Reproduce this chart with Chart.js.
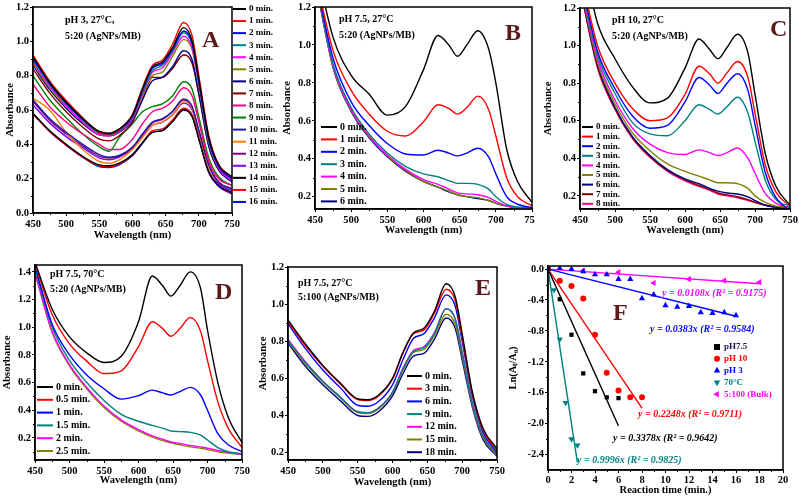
<!DOCTYPE html>
<html>
<head>
<meta charset="utf-8">
<script src="https://cdn.jsdelivr.net/npm/chart.js@4.4.1/dist/chart.umd.min.js"></script>
<style>
  html, body { margin: 0; padding: 0; background: #fff; }
  body { width: 799px; height: 499px; position: relative; overflow: hidden; }
  canvas { position: absolute; }
</style>
</head>
<body>
<canvas id="pA" width="285" height="250" style="left:0px;top:0px"></canvas>
<canvas id="pB" width="265" height="250" style="left:270px;top:0px"></canvas>
<canvas id="pC" width="264" height="250" style="left:535px;top:0px"></canvas>
<canvas id="pD" width="250" height="249" style="left:0px;top:250px"></canvas>
<canvas id="pE" width="255" height="249" style="left:250px;top:250px"></canvas>
<canvas id="pF" width="294" height="249" style="left:505px;top:250px"></canvas>
<script>
// ---- dados ----
// comprimentos de onda (nm) amostrados
const wlA = [450, 475, 500, 525, 550, 565, 580, 600, 615, 630, 645, 660, 677, 690, 700, 715, 730, 750];
const wlB = [450, 475, 500, 525, 550, 575, 600, 620, 635, 647, 660, 675, 690, 700, 715, 730, 750];
const wlE = wlA;

const timesA = ['0 min.', '1 min.', '2 min.', '3 min.', '4 min.', '5 min.', '6 min.', '7 min.', '8 min.',
  '9 min.', '10 min.', '11 min.', '12 min.', '13 min.', '14 min.', '15 min.', '16 min.'];
const timesB = ['0 min.', '1 min.', '2 min.', '3 min.', '4 min.', '5 min.', '6 min.'];
const timesC = ['0 min.', '1 min.', '2 min.', '3 min.', '4 min.', '5 min.', '6 min.', '7 min.', '8 min.'];
const timesD = ['0 min.', '0.5 min.', '1 min.', '1.5 min.', '2 min.', '2.5 min.'];
const timesE = ['0 min.', '3 min.', '6 min.', '9 min.', '12 min.', '15 min.', '18 min.'];

// A: pH 3, 27 C
const absA = [
  [0.91, 0.76, 0.645, 0.55, 0.475, 0.465, 0.49, 0.57, 0.72, 0.85, 0.88, 0.96, 1.08, 1.00, 0.78, 0.44, 0.28, 0.21],
  [0.92, 0.77, 0.655, 0.555, 0.47, 0.46, 0.485, 0.575, 0.73, 0.86, 0.89, 0.98, 1.11, 1.03, 0.80, 0.45, 0.28, 0.21],
  [0.90, 0.755, 0.64, 0.545, 0.47, 0.46, 0.485, 0.565, 0.715, 0.845, 0.87, 0.95, 1.06, 0.99, 0.77, 0.43, 0.27, 0.20],
  [0.89, 0.75, 0.635, 0.54, 0.465, 0.455, 0.48, 0.56, 0.70, 0.83, 0.86, 0.94, 1.05, 0.98, 0.76, 0.42, 0.27, 0.20],
  [0.88, 0.74, 0.625, 0.53, 0.455, 0.45, 0.475, 0.55, 0.69, 0.82, 0.845, 0.93, 1.03, 0.96, 0.75, 0.42, 0.26, 0.19],
  [0.87, 0.73, 0.62, 0.53, 0.46, 0.455, 0.475, 0.55, 0.68, 0.80, 0.82, 0.91, 1.01, 0.95, 0.74, 0.41, 0.26, 0.19],
  [0.86, 0.72, 0.61, 0.52, 0.455, 0.45, 0.47, 0.54, 0.66, 0.77, 0.79, 0.85, 0.945, 0.89, 0.70, 0.39, 0.25, 0.18],
  [0.84, 0.70, 0.59, 0.50, 0.43, 0.42, 0.45, 0.53, 0.66, 0.79, 0.79, 0.84, 0.92, 0.87, 0.69, 0.39, 0.25, 0.19],
  [0.75, 0.62, 0.53, 0.46, 0.40, 0.37, 0.37, 0.43, 0.52, 0.59, 0.61, 0.65, 0.73, 0.68, 0.53, 0.30, 0.20, 0.16],
  [0.80, 0.66, 0.555, 0.46, 0.385, 0.36, 0.44, 0.52, 0.59, 0.62, 0.635, 0.68, 0.765, 0.72, 0.56, 0.32, 0.21, 0.16],
  [0.66, 0.55, 0.47, 0.40, 0.34, 0.325, 0.335, 0.385, 0.46, 0.53, 0.55, 0.59, 0.665, 0.62, 0.48, 0.28, 0.18, 0.14],
  [0.67, 0.60, 0.47, 0.37, 0.30, 0.29, 0.31, 0.37, 0.44, 0.51, 0.53, 0.57, 0.65, 0.61, 0.47, 0.27, 0.18, 0.14],
  [0.65, 0.54, 0.46, 0.39, 0.33, 0.32, 0.33, 0.38, 0.455, 0.525, 0.545, 0.59, 0.66, 0.61, 0.48, 0.28, 0.18, 0.14],
  [0.63, 0.525, 0.445, 0.38, 0.32, 0.31, 0.325, 0.375, 0.445, 0.51, 0.53, 0.57, 0.64, 0.60, 0.47, 0.27, 0.17, 0.13],
  [0.58, 0.48, 0.40, 0.33, 0.28, 0.275, 0.29, 0.34, 0.41, 0.47, 0.48, 0.53, 0.60, 0.56, 0.43, 0.24, 0.16, 0.12],
  [0.575, 0.475, 0.395, 0.325, 0.275, 0.27, 0.285, 0.34, 0.41, 0.48, 0.49, 0.54, 0.61, 0.57, 0.44, 0.24, 0.16, 0.115],
  [0.58, 0.475, 0.395, 0.325, 0.27, 0.265, 0.28, 0.335, 0.405, 0.47, 0.48, 0.535, 0.605, 0.565, 0.435, 0.235, 0.155, 0.11]
];

// B: pH 7.5, 27 C
const absB = [
  [1.45, 1.04, 0.84, 0.74, 0.63, 0.675, 0.87, 1.05, 1.00, 0.94, 1.00, 1.075, 0.98, 0.80, 0.45, 0.28, 0.17],
  [1.38, 0.97, 0.76, 0.635, 0.545, 0.52, 0.595, 0.685, 0.665, 0.635, 0.67, 0.73, 0.66, 0.52, 0.30, 0.20, 0.152],
  [1.36, 0.93, 0.70, 0.575, 0.48, 0.425, 0.42, 0.445, 0.43, 0.415, 0.43, 0.455, 0.41, 0.32, 0.20, 0.16, 0.142],
  [1.35, 0.90, 0.67, 0.53, 0.43, 0.36, 0.32, 0.305, 0.285, 0.27, 0.27, 0.265, 0.24, 0.20, 0.16, 0.146, 0.14],
  [1.35, 0.89, 0.66, 0.52, 0.42, 0.345, 0.29, 0.265, 0.24, 0.22, 0.215, 0.21, 0.195, 0.175, 0.152, 0.142, 0.138],
  [1.35, 0.885, 0.655, 0.515, 0.415, 0.34, 0.28, 0.25, 0.23, 0.21, 0.20, 0.195, 0.18, 0.165, 0.15, 0.142, 0.138],
  [1.35, 0.88, 0.65, 0.51, 0.41, 0.335, 0.28, 0.25, 0.225, 0.21, 0.20, 0.19, 0.18, 0.165, 0.15, 0.14, 0.137]
];

// C: pH 10, 27 C
const absC = [
  [1.55, 1.12, 0.93, 0.78, 0.695, 0.72, 0.88, 1.035, 0.98, 0.93, 0.99, 1.06, 0.96, 0.74, 0.42, 0.25, 0.15],
  [1.40, 1.00, 0.80, 0.665, 0.60, 0.615, 0.74, 0.89, 0.85, 0.80, 0.855, 0.915, 0.83, 0.64, 0.36, 0.22, 0.145],
  [1.38, 0.97, 0.77, 0.625, 0.56, 0.575, 0.70, 0.83, 0.79, 0.745, 0.80, 0.85, 0.76, 0.58, 0.32, 0.19, 0.12],
  [1.36, 0.95, 0.745, 0.59, 0.53, 0.52, 0.60, 0.685, 0.66, 0.635, 0.675, 0.725, 0.64, 0.49, 0.28, 0.18, 0.145],
  [1.34, 0.93, 0.71, 0.56, 0.475, 0.43, 0.42, 0.445, 0.43, 0.415, 0.43, 0.455, 0.40, 0.32, 0.21, 0.16, 0.138],
  [1.33, 0.91, 0.69, 0.535, 0.44, 0.37, 0.33, 0.305, 0.285, 0.27, 0.27, 0.265, 0.24, 0.20, 0.165, 0.145, 0.138],
  [1.32, 0.90, 0.67, 0.515, 0.415, 0.34, 0.29, 0.265, 0.24, 0.225, 0.215, 0.21, 0.195, 0.175, 0.15, 0.14, 0.13],
  [1.31, 0.89, 0.665, 0.51, 0.41, 0.335, 0.285, 0.255, 0.235, 0.215, 0.205, 0.195, 0.18, 0.165, 0.15, 0.14, 0.135],
  [1.31, 0.88, 0.66, 0.505, 0.405, 0.33, 0.28, 0.25, 0.23, 0.21, 0.20, 0.19, 0.175, 0.165, 0.15, 0.14, 0.135]
];

// D: pH 7.5, 70 C
const absD = [
  [1.47, 1.13, 0.93, 0.815, 0.745, 0.79, 1.04, 1.37, 1.30, 1.225, 1.30, 1.40, 1.28, 0.98, 0.60, 0.35, 0.165],
  [1.46, 1.09, 0.88, 0.755, 0.665, 0.685, 0.86, 1.04, 0.99, 0.935, 0.99, 1.07, 0.97, 0.76, 0.46, 0.27, 0.13],
  [1.44, 1.02, 0.80, 0.655, 0.555, 0.48, 0.505, 0.545, 0.525, 0.51, 0.535, 0.565, 0.51, 0.40, 0.23, 0.15, 0.10],
  [1.42, 1.00, 0.76, 0.60, 0.47, 0.37, 0.32, 0.29, 0.27, 0.25, 0.245, 0.24, 0.22, 0.185, 0.13, 0.10, 0.085],
  [1.40, 0.97, 0.73, 0.565, 0.43, 0.33, 0.26, 0.215, 0.19, 0.17, 0.16, 0.145, 0.135, 0.125, 0.11, 0.095, 0.08],
  [1.39, 0.96, 0.72, 0.555, 0.42, 0.32, 0.25, 0.205, 0.18, 0.165, 0.15, 0.135, 0.125, 0.115, 0.10, 0.09, 0.08]
];

// E: pH 7.5, 27 C, 5:100
const absE = [
  [0.915, 0.785, 0.67, 0.575, 0.49, 0.485, 0.51, 0.60, 0.74, 0.845, 0.87, 0.96, 1.11, 1.04, 0.84, 0.52, 0.33, 0.22],
  [0.905, 0.775, 0.665, 0.57, 0.485, 0.48, 0.505, 0.595, 0.735, 0.84, 0.86, 0.95, 1.08, 1.02, 0.82, 0.51, 0.32, 0.21],
  [0.895, 0.76, 0.645, 0.55, 0.455, 0.45, 0.475, 0.565, 0.70, 0.815, 0.84, 0.925, 1.05, 0.99, 0.80, 0.50, 0.31, 0.20],
  [0.805, 0.685, 0.585, 0.50, 0.42, 0.415, 0.44, 0.525, 0.65, 0.745, 0.765, 0.84, 0.975, 0.92, 0.74, 0.46, 0.29, 0.19],
  [0.81, 0.69, 0.585, 0.50, 0.42, 0.415, 0.44, 0.525, 0.655, 0.75, 0.77, 0.845, 0.975, 0.92, 0.74, 0.46, 0.29, 0.19],
  [0.80, 0.68, 0.58, 0.495, 0.415, 0.41, 0.435, 0.52, 0.645, 0.74, 0.755, 0.83, 0.945, 0.89, 0.72, 0.45, 0.28, 0.185],
  [0.79, 0.665, 0.565, 0.48, 0.40, 0.395, 0.42, 0.505, 0.625, 0.72, 0.735, 0.81, 0.925, 0.87, 0.70, 0.44, 0.27, 0.18]
];

// F: cinetica Ln(At/A0) x tempo
const fLabels = ['pH7.5', 'pH 10', 'pH 3', '70°C', '5:100 (Bulk)'];
const tPH75 = [0, 1, 2, 3, 4, 5, 6];
const lnPH75 = [0, -0.39, -0.85, -1.35, -1.58, -1.66, -1.67];
const tPH10 = [0, 1, 2, 3, 4, 5, 6, 7, 8];
const lnPH10 = [0, -0.15, -0.22, -0.38, -0.85, -1.34, -1.57, -1.66, -1.66];
const tPH3 = [0, 1, 2, 3, 4, 5, 6, 7, 8, 9, 10, 11, 12, 13, 14, 15, 16];
const lnPH3 = [0, 0.01, 0, -0.03, -0.07, -0.07, -0.13, -0.13, -0.38, -0.33, -0.47, -0.49, -0.48, -0.56, -0.57, -0.56, -0.60];
const t70C = [0, 0.5, 1, 1.5, 2, 2.5];
const ln70C = [0, -0.27, -0.91, -1.73, -2.20, -2.28];
const tBulk = [0, 3, 6, 9, 12, 15, 18];
const lnBulk = [0, -0.02, -0.04, -0.18, -0.13, -0.15, -0.17];
// extremidades das retas de ajuste (partem da origem)
const fitEndX = [6, 8, 16, 2.5, 18];
const fitEndY = [-2.03, -1.80, -0.61, -2.50, -0.19];
const fitText = ['y = 0.3378x (R² = 0.9642)', 'y = 0.2248x (R² = 0.9711)', 'y = 0.0383x (R² = 0.9584)',
  'y = 0.9996x (R² = 0.9825)', 'y = 0.0108x (R² = 0.9175)'];

// ticks
const wlTicks = [450, 500, 550, 600, 650, 700, 750];
const absTicksA = [0, 0.2, 0.4, 0.6, 0.8, 1.0, 1.2];
const absTicksB = [0.2, 0.4, 0.6, 0.8, 1.0, 1.2];
const absTicksD = [0.2, 0.4, 0.6, 0.8, 1.0, 1.2, 1.4];
const timeTicks = [0, 2, 4, 6, 8, 10, 12, 14, 16, 18, 20];
const lnTicks = [0, -0.4, -0.8, -1.2, -1.6, -2.0, -2.4];

// ---- estilos ----
const SERIF = '"Liberation Serif", "Times New Roman", serif';
const fnt = (size, style) => (style || 'bold') + ' ' + size + 'px ' + SERIF;
const curveColors = ['#000000', '#ff0000', '#0000ff', '#008080', '#ff00ff', '#808000', '#000080', '#800000',
  '#ff0080', '#008000', '#1a1aa8', '#ff8000', '#800080', '#8000ff', '#000000', '#ff0000', '#0000ff'];
const fColors = ['#000000', '#ff0000', '#0000ff', '#008080', '#ff00ff'];
const fMarkers = [
  { style: 'rect', rotation: 0 },
  { style: 'circle', rotation: 0 },
  { style: 'triangle', rotation: 0 },
  { style: 'triangle', rotation: 180 },
  { style: 'triangle', rotation: -90 }
];
const letterColor = '#5c1a1a';

Chart.defaults.color = '#000';

function drawMarker(ctx, m, x, y, r, col) {
  ctx.fillStyle = col;
  ctx.beginPath();
  if (m.style === 'rect') {
    ctx.rect(x - r, y - r, 2 * r, 2 * r);
  } else if (m.style === 'circle') {
    ctx.arc(x, y, r, 0, Math.PI * 2);
  } else {
    const rot = m.rotation * Math.PI / 180;
    for (let k = 0; k < 3; k++) {
      const ang = rot - Math.PI / 2 + k * 2 * Math.PI / 3;
      const px = x + r * 1.25 * Math.cos(ang), py = y + r * 1.25 * Math.sin(ang);
      if (k) ctx.lineTo(px, py); else ctx.moveTo(px, py);
    }
    ctx.closePath();
  }
  ctx.fill();
}

// ticks menores entre os principais
function minorTicks(ctx, chart) {
  const a = chart.chartArea, sx = chart.scales.x, sy = chart.scales.y;
  ctx.strokeStyle = '#000';
  ctx.lineWidth = 1;
  ctx.beginPath();
  const tx = sx.ticks.map(t => t.value);
  for (let i = 0; i < tx.length - 1; i++) {
    const px = Math.round(sx.getPixelForValue((tx[i] + tx[i + 1]) / 2)) + 0.5;
    ctx.moveTo(px, a.bottom); ctx.lineTo(px, a.bottom + 2);
  }
  const ty = sy.ticks.map(t => t.value);
  const stepY = ty[1] - ty[0];
  for (let i = -1; i < ty.length; i++) {
    const v = ty[0] + (i + 0.5) * stepY;
    const py = Math.round(sy.getPixelForValue(v)) + 0.5;
    if (py < a.top || py > a.bottom) continue;
    ctx.moveTo(a.left, py); ctx.lineTo(a.left - 2, py);
  }
  ctx.stroke();
}

// moldura, textos e legenda (coordenadas da pagina)
function makeDecor(spec) {
  return {
    id: 'decor',
    afterDatasetsDraw(chart) {
      const ctx = chart.ctx, a = chart.chartArea;
      ctx.save();
      ctx.strokeStyle = '#000';
      ctx.lineWidth = 1.5;
      ctx.strokeRect(a.left, a.top, a.right - a.left, a.bottom - a.top);
      minorTicks(ctx, chart);
      ctx.textAlign = 'left';
      ctx.textBaseline = 'middle';
      spec.texts.forEach(t => {
        ctx.font = t.font;
        ctx.fillStyle = t.color || '#000';
        ctx.fillText(t.text, t.x - spec.left, t.y - spec.top);
      });
      const lg = spec.legend;
      if (lg) {
        lg.labels.forEach((lab, i) => {
          const y = lg.y + i * lg.dy - spec.top;
          if (lg.markers) {
            drawMarker(ctx, lg.markers[i], lg.x0 - spec.left, y, 3, lg.colors[i]);
          } else {
            ctx.strokeStyle = lg.colors[i];
            ctx.lineWidth = 2;
            ctx.beginPath();
            ctx.moveTo(lg.x0 - spec.left, y);
            ctx.lineTo(lg.x1 - spec.left, y);
            ctx.stroke();
          }
          ctx.font = lg.font;
          ctx.fillStyle = lg.textColors ? lg.textColors[i] : '#000';
          ctx.fillText(lab, lg.tx - spec.left, y);
        });
      }
      ctx.restore();
    }
  };
}

function axisOpts(o) {
  return {
    type: 'linear',
    min: o.min,
    max: o.max,
    afterBuildTicks: s => { s.ticks = o.ticks.map(v => ({ value: v })); },
    afterFit: s => {
      if (o.h !== undefined) s.height = o.h; else s.width = o.w;
      s.paddingLeft = 0; s.paddingRight = 0; s.paddingTop = 0; s.paddingBottom = 0;
    },
    grid: { drawOnChartArea: false, tickLength: 3, color: '#000', lineWidth: 1 },
    border: { color: '#000', width: 1.5 },
    ticks: {
      font: { family: SERIF, size: 10.5, weight: 'bold' },
      color: '#000', padding: o.h !== undefined ? (o.lp === undefined ? 2 : o.lp) : 1,
      maxRotation: 0, autoSkip: false,
      callback: o.fmt
    },
    title: {
      display: true, text: o.title, color: '#000',
      font: { family: SERIF, size: 10.5, weight: 'bold' },
      padding: o.h !== undefined ? { top: 0, bottom: o.tp } : { top: o.tp, bottom: 0 }
    }
  };
}

function spectrumPanel(p) {
  const datasets = p.abs.map((vals, i) => ({
    label: p.labels[i],
    data: vals.map((v, k) => ({ x: p.wl[k], y: v })),
    borderColor: curveColors[i],
    borderWidth: 1.4,
    pointRadius: 0,
    fill: false,
    cubicInterpolationMode: 'monotone'
  }));
  p.decor.left = p.left;
  p.decor.top = p.top;
  p.decor.legend.labels = p.labels;
  p.decor.legend.colors = curveColors;
  return new Chart(document.getElementById(p.id), {
    type: 'line',
    data: { datasets },
    options: {
      responsive: false,
      animation: false,
      events: [],
      layout: { padding: p.pad },
      plugins: { legend: { display: false }, tooltip: { enabled: false } },
      scales: {
        x: axisOpts({ min: 450, max: 750, ticks: wlTicks, h: p.xh, tp: p.xtp, lp: p.lp, title: 'Wavelength (nm)', fmt: v => String(v) }),
        y: axisOpts({ min: p.yMin, max: p.yMax, ticks: p.yTicks, w: p.yw, tp: p.ytp, title: 'Absorbance', fmt: v => v.toFixed(1) })
      }
    },
    plugins: [makeDecor(p.decor)]
  });
}

const big = fnt(24), note = fnt(10);

spectrumPanel({
  id: 'pA', left: 0, top: 0, wl: wlA, abs: absA, labels: timesA,
  pad: { left: 0, top: 7, right: 53, bottom: 0 }, yw: 33, xh: 37, ytp: 4, xtp: 8,
  yMin: 0, yMax: 1.2, yTicks: absTicksA,
  decor: {
    texts: [
      { text: 'pH 3, 27°C,', x: 65, y: 20, font: note },
      { text: '5:20 (AgNPs/MB)', x: 65, y: 36, font: note },
      { text: 'A', x: 202, y: 41, font: big, color: letterColor }
    ],
    legend: { x0: 233, x1: 246, tx: 249, y: 9, dy: 12.06, font: fnt(9) }
  }
});

spectrumPanel({
  id: 'pB', left: 270, top: 0, wl: wlB, abs: absB, labels: timesB,
  pad: { left: 0, top: 7, right: 3, bottom: 0 }, yw: 45, xh: 41, ytp: 11, xtp: 13,
  yMin: 0.135, yMax: 1.2, yTicks: absTicksB,
  decor: {
    texts: [
      { text: 'pH 7.5, 27°C', x: 339, y: 19, font: note },
      { text: '5:20 (AgNPs/MB)', x: 339, y: 35, font: note },
      { text: 'B', x: 505, y: 34, font: big, color: letterColor }
    ],
    legend: { x0: 321, x1: 337, tx: 340, y: 127, dy: 12.4, font: fnt(10) }
  }
});

spectrumPanel({
  id: 'pC', left: 535, top: 0, wl: wlB, abs: absC, labels: timesC,
  pad: { left: 0, top: 8, right: 9, bottom: 0 }, yw: 45, xh: 41, ytp: 7, xtp: 13,
  yMin: 0.13, yMax: 1.2, yTicks: absTicksB,
  decor: {
    texts: [
      { text: 'pH 10, 27°C', x: 612, y: 20, font: note },
      { text: '5:20 (AgNPs/MB)', x: 612, y: 36, font: note },
      { text: 'C', x: 770, y: 30, font: big, color: letterColor }
    ],
    legend: { x0: 582, x1: 593, tx: 596, y: 127, dy: 9.6, font: fnt(9) }
  }
});

spectrumPanel({
  id: 'pD', left: 0, top: 250, wl: wlB, abs: absD, labels: timesD,
  pad: { left: 0, top: 15, right: 8, bottom: 0 }, yw: 35, xh: 39, ytp: 1, xtp: 12, lp: 2,
  yMin: 0.04, yMax: 1.45, yTicks: absTicksD,
  decor: {
    texts: [
      { text: 'pH 7.5, 70°C', x: 50, y: 274, font: note },
      { text: '5:20 (AgNPs/MB)', x: 50, y: 289, font: note },
      { text: 'D', x: 215, y: 293, font: big, color: letterColor }
    ],
    legend: { x0: 37, x1: 53, tx: 56, y: 387, dy: 12.8, font: fnt(10) }
  }
});

spectrumPanel({
  id: 'pE', left: 250, top: 250, wl: wlE, abs: absE, labels: timesE,
  pad: { left: 0, top: 17, right: 8, bottom: 0 }, yw: 38, xh: 39, ytp: 7, xtp: 10,
  yMin: 0.16, yMax: 1.2, yTicks: absTicksB,
  decor: {
    texts: [
      { text: 'pH 7.5, 27°C', x: 298, y: 283, font: note },
      { text: '5:100 (AgNPs/MB)', x: 298, y: 297, font: note },
      { text: 'E', x: 475, y: 289, font: big, color: letterColor }
    ],
    legend: { x0: 407, x1: 422, tx: 425, y: 376, dy: 12.7, font: fnt(10) }
  }
});

// ---- painel F ----
(function () {
  const tSets = [tPH75, tPH10, tPH3, t70C, tBulk];
  const lnSets = [lnPH75, lnPH10, lnPH3, ln70C, lnBulk];
  const datasets = [];
  tSets.forEach((ts, i) => {
    datasets.push({
      label: fLabels[i],
      data: ts.map((t, k) => ({ x: t, y: lnSets[i][k] })),
      showLine: false,
      pointStyle: fMarkers[i].style,
      pointRotation: fMarkers[i].rotation,
      pointRadius: fMarkers[i].style === 'triangle' ? 3.6 : 3,
      pointBackgroundColor: fColors[i],
      pointBorderColor: fColors[i],
      pointBorderWidth: 0
    });
  });
  fitEndX.forEach((xe, i) => {
    datasets.push({
      label: '',
      data: [{ x: 0, y: 0 }, { x: xe, y: fitEndY[i] }],
      showLine: true,
      borderColor: fColors[i],
      borderWidth: 1.4,
      pointRadius: 0
    });
  });
  const eq = fnt(10, 'italic bold');
  const eqPos = [[613, 438], [638, 414], [650, 329], [577, 460], [662, 293]];
  const texts = fitText.map((t, i) => ({ text: t, x: eqPos[i][0], y: eqPos[i][1], font: eq, color: fColors[i] }));
  texts.push({ text: 'F', x: 613, y: 314, font: big, color: letterColor });
  new Chart(document.getElementById('pF'), {
    type: 'scatter',
    data: { datasets },
    options: {
      responsive: false,
      animation: false,
      events: [],
      layout: { padding: { left: 0, top: 16, right: 16, bottom: 0 } },
      plugins: { legend: { display: false }, tooltip: { enabled: false } },
      scales: {
        x: axisOpts({ min: 0, max: 20, ticks: timeTicks, h: 29, tp: 2, lp: 1, title: 'Reaction time (min.)', fmt: v => String(v) }),
        y: axisOpts({ min: -2.6, max: 0.04, ticks: lnTicks, w: 43, tp: 2, title: 'Ln(A\u209C/A\u2080)', fmt: v => v.toFixed(1) })
      }
    },
    plugins: [makeDecor({
      left: 505, top: 250, texts,
      legend: {
        labels: fLabels, colors: fColors, markers: fMarkers,
        textColors: ['#141450', '#ff0000', '#0000ff', '#008080', '#ff00ff'],
        x0: 717, tx: 724, y: 347, dy: 11.8, font: fnt(9)
      }
    })]
  });
})();
</script>
</body>
</html>
